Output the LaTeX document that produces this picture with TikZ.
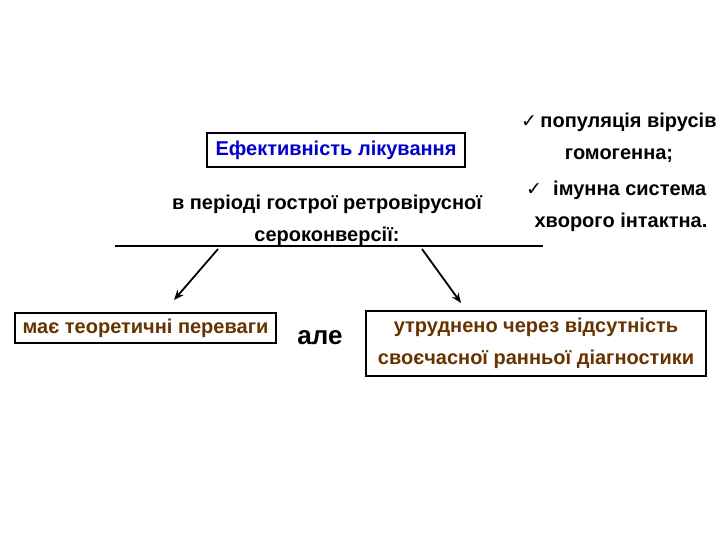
\documentclass[tikz,border=0pt]{standalone}
\usepackage{fontspec}
\setmainfont{Liberation Sans}
\newfontfamily\symfont{DejaVu Sans}
\usetikzlibrary{arrows.meta}
\definecolor{titleblue}{HTML}{0000CC}
\definecolor{textbrown}{HTML}{663300}

\begin{document}
\begin{tikzpicture}[x=1pt, y=-1pt,
  framebox/.style={draw=black, line width=2pt, inner sep=0pt, font=\bfseries\fontsize{20}{24}\selectfont},
  plain/.style={font=\bfseries\fontsize{20}{24}\selectfont, inner sep=0pt},
  pointer/.style={-{Stealth[length=10pt, width=8pt]}, line width=1.8pt}]
  % page frame, pixel units
  \useasboundingbox (0,0) rectangle (720,540);

  % Title box
  \node[framebox, text=titleblue, minimum width=258pt, minimum height=34pt]
    (title) at (336,150) {Ефективність лікування};

  % Subtitle, two lines
  \node[plain] (sub1) at (327,204) {в періоді гострої ретровірусної};
  \node[plain] (sub2) at (327,236) {сероконверсії:};

  % Bar under subtitle
  \coordinate (barL) at (115,246);
  \coordinate (barR) at (543,246);
  \draw[line width=1.8pt] (barL) -- (barR);

  % Conditions on the right
  \node[plain, anchor=west] (cond1) at (521,122)
    {{\symfont\fontsize{19}{22}\selectfont ✓}\,популяція вірусів};
  \node[plain] (cond2) at (619,156) {гомогенна;};
  \node[plain, anchor=west] (cond3) at (526,190)
    {{\symfont\fontsize{19}{22}\selectfont ✓}\ \ імунна система};
  \node[plain] (cond4) at (621,222) {хворого інтактна.};

  % Lower boxes
  \node[framebox, text=textbrown, minimum width=261pt, minimum height=30pt]
    (pro) at (145.5,328) {має теоретичні переваги};
  \node[framebox, text=textbrown, minimum width=340pt, minimum height=65pt, align=center]
    (contra) at (536,343.5) {утруднено через відсутність\\[8pt]своєчасної ранньої діагностики};
  \node[font=\bfseries\fontsize{26}{30}\selectfont, inner sep=0pt] (but) at (320,338) {але};

  % Arrows from the bar
  \coordinate (fromL) at (218,249);
  \coordinate (toL) at (174,300);
  \coordinate (fromR) at (422,249);
  \coordinate (toR) at (461,303);
  \draw[pointer] (fromL) -- (toL);
  \draw[pointer] (fromR) -- (toR);

\end{tikzpicture}
\end{document}
